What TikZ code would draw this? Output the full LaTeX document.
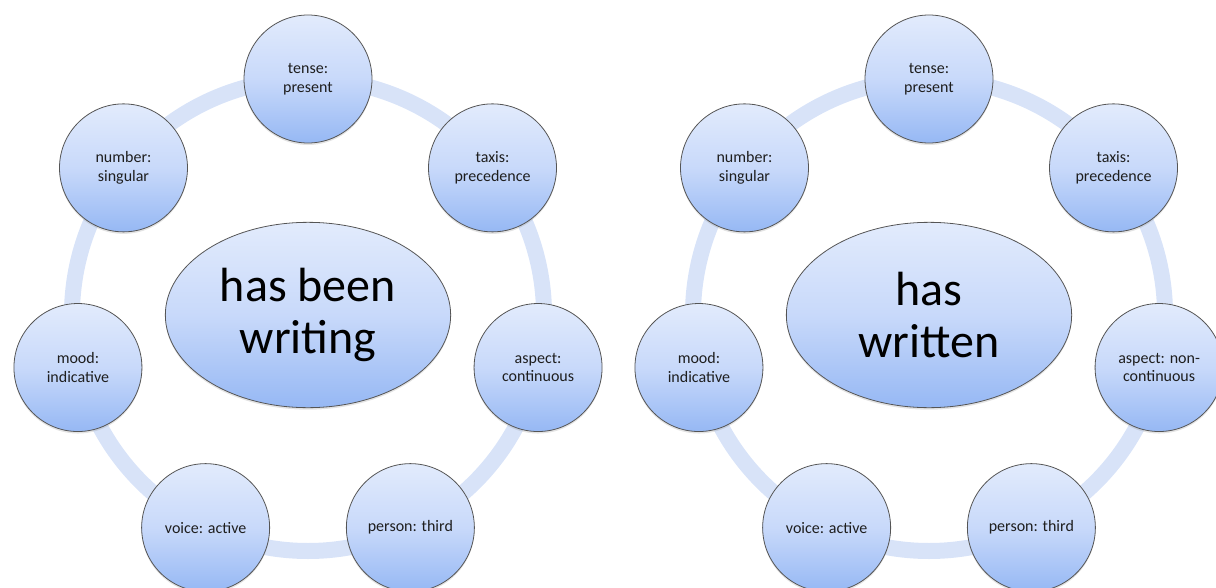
\documentclass[tikz,border=0pt]{standalone}
\usepackage{fontspec}
\setmainfont{Carlito}
\usetikzlibrary{shapes.geometric,shadows,backgrounds}
\definecolor{ringc}{RGB}{216,227,248}
\definecolor{topc}{RGB}{226,235,252}
\definecolor{midc}{RGB}{200,217,250}
\definecolor{botc}{RGB}{150,184,244}
\definecolor{edgec}{RGB}{85,85,85}
\definecolor{txt}{RGB}{30,30,30}
\tikzset{
  attr/.style={circle, draw=edgec, line width=0.6pt, minimum size=96pt, inner sep=0pt,
    align=center, text=txt, font=\fontsize{12}{14}\selectfont,
    top color=topc, bottom color=botc, middle color=midc,
    drop shadow={opacity=0.22, shadow xshift=0pt, shadow yshift=-1.5pt}},
  verbform/.style={ellipse, draw=edgec, line width=0.6pt, minimum width=214pt, minimum height=139pt,
    inner sep=0pt, align=center, text=black, font=\fontsize{36}{39}\selectfont,
    top color=topc, bottom color=botc, middle color=midc,
    drop shadow={opacity=0.22, shadow xshift=0pt, shadow yshift=-1.5pt}},
  ringseg/.style={draw=ringc, line width=12pt, bend left=25.7, looseness=0.9},
}
\begin{document}
\begin{tikzpicture}[x=0.75pt,y=0.75pt]
\useasboundingbox (0,0) rectangle (1216,587);
\clip (0,0) rectangle (1216,587);
\coordinate (L) at (308,272);
\coordinate (R) at (929,272);
% left diagram
\node[verbform] (Lc) at (L) {has been\\writing};
\path (L) ++(90:236) node[attr] (Lt) {tense:\\present};
\path (L) ++(38.57:236) node[attr] (Lx) {taxis:\\precedence};
\path (L) ++(-12.86:236) node[attr] (La) {aspect:\\continuous};
\path (L) ++(-64.29:236) node[attr] (Lp) {person: third};
\path (L) ++(-115.71:236) node[attr] (Lv) {voice: active};
\path (L) ++(-167.14:236) node[attr] (Lm) {mood:\\indicative};
\path (L) ++(141.43:236) node[attr] (Ln) {number:\\singular};
% right diagram
\node[verbform] (Rc) at (R) {has\\written};
\path (R) ++(90:236) node[attr] (Rt) {tense:\\present};
\path (R) ++(38.57:236) node[attr] (Rx) {taxis:\\precedence};
\path (R) ++(-12.86:236) node[attr] (Ra) {aspect: non-\\continuous};
\path (R) ++(-64.29:236) node[attr] (Rp) {person: third};
\path (R) ++(-115.71:236) node[attr] (Rv) {voice: active};
\path (R) ++(-167.14:236) node[attr] (Rm) {mood:\\indicative};
\path (R) ++(141.43:236) node[attr] (Rn) {number:\\singular};
% rings
\begin{scope}[on background layer]
\foreach \s in {L,R}{
  \foreach \a/\b in {t/x,x/a,a/p,p/v,v/m,m/n,n/t}{
    \draw[ringseg] (\s\a.center) to (\s\b.center);
  }
}
\end{scope}
\end{tikzpicture}
\end{document}
